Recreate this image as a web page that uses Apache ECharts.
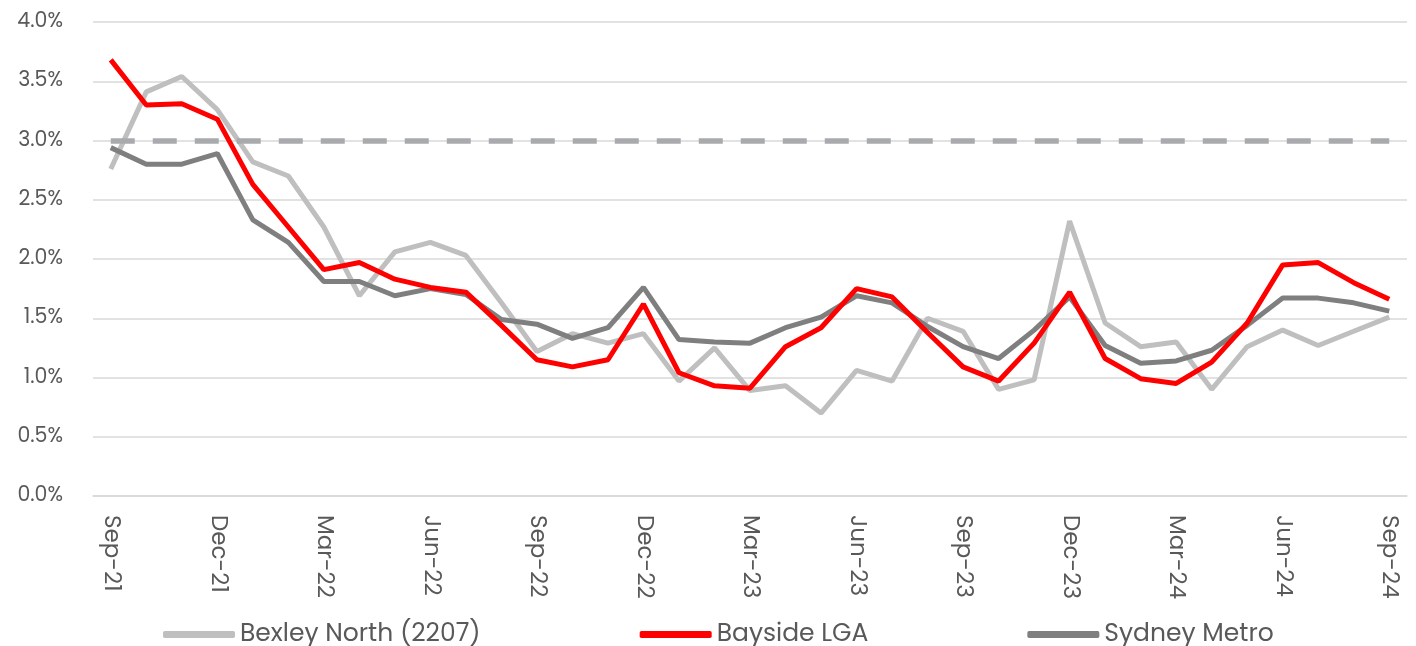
<!DOCTYPE html>
<html>
<head>
<meta charset="utf-8">
<script src="https://cdn.jsdelivr.net/npm/echarts@6/dist/echarts.min.js"></script>
<style>
  html, body { margin: 0; padding: 0; background: #fff; }
  #chart { width: 1416px; height: 646px; }
</style>
</head>
<body>
<div id="chart"></div>
<script>
// monthly, Sep-21 .. Sep-24
const months = ['Sep-21','Oct-21','Nov-21','Dec-21','Jan-22','Feb-22','Mar-22','Apr-22','May-22','Jun-22','Jul-22','Aug-22',
                'Sep-22','Oct-22','Nov-22','Dec-22','Jan-23','Feb-23','Mar-23','Apr-23','May-23','Jun-23','Jul-23','Aug-23',
                'Sep-23','Oct-23','Nov-23','Dec-23','Jan-24','Feb-24','Mar-24','Apr-24','May-24','Jun-24','Jul-24','Aug-24','Sep-24'];

const bexleyNorth = [2.76, 3.41, 3.54, 3.26, 2.82, 2.70, 2.27, 1.69, 2.06, 2.14, 2.03, 1.63,
                     1.22, 1.37, 1.29, 1.37, 0.97, 1.25, 0.89, 0.93, 0.70, 1.06, 0.97, 1.50,
                     1.39, 0.90, 0.98, 2.32, 1.46, 1.26, 1.30, 0.90, 1.26, 1.40, 1.27, 1.39, 1.51];

const baysideLGA = [3.68, 3.30, 3.31, 3.18, 2.63, 2.27, 1.91, 1.97, 1.83, 1.76, 1.72, 1.44,
                    1.15, 1.09, 1.15, 1.62, 1.04, 0.93, 0.91, 1.26, 1.42, 1.75, 1.68, 1.38,
                    1.09, 0.97, 1.29, 1.72, 1.16, 0.99, 0.95, 1.13, 1.46, 1.95, 1.97, 1.80, 1.66];

const sydneyMetro = [2.94, 2.80, 2.80, 2.89, 2.33, 2.14, 1.81, 1.81, 1.69, 1.75, 1.70, 1.49,
                     1.45, 1.33, 1.42, 1.76, 1.32, 1.30, 1.29, 1.42, 1.51, 1.69, 1.63, 1.43,
                     1.26, 1.16, 1.40, 1.68, 1.27, 1.12, 1.14, 1.23, 1.44, 1.67, 1.67, 1.63, 1.56];

const benchmark = 3.0;

window.onload = () => {
    let chart = echarts.init(document.getElementById('chart'));
    const font = "Poppins, 'Noto Sans', sans-serif";
    let option = {
        animation: false,
        backgroundColor: '#fff',
        grid: { left: 93, right: 9, top: 22, bottom: 150 },
        legend: {
            data: ['Bexley North (2207)', 'Bayside LGA', 'Sydney Metro'],
            top: 617,
            left: 158,
            icon: 'roundRect',
            itemWidth: 72,
            itemHeight: 7,
            itemGap: 159,
            textStyle: { color: '#595959', fontSize: 25, fontFamily: font }
        },
        xAxis: {
            type: 'category',
            data: months,
            boundaryGap: true,
            axisLine: { lineStyle: { color: '#D9D9D9', width: 1.5 } },
            axisTick: { interval: 2, length: 9, lineStyle: { color: '#D9D9D9', width: 1.5 } },
            axisLabel: {
                interval: 2,
                rotate: -90,
                margin: 19,
                color: '#595959',
                fontSize: 23,
                fontFamily: font
            }
        },
        yAxis: {
            type: 'value',
            min: 0,
            max: 4,
            interval: 0.5,
            axisLine: { show: false },
            axisTick: { show: false },
            splitLine: { lineStyle: { color: '#D9D9D9', width: 1.5 } },
            axisLabel: {
                margin: 30,
                color: '#595959',
                fontSize: 20.5,
                fontFamily: font,
                formatter: v => v.toFixed(1) + '%'
            }
        },
        series: [
            {
                name: 'Bexley North (2207)',
                type: 'line',
                data: bexleyNorth,
                symbol: 'none',
                color: '#BFBFBF',
                lineStyle: { width: 5, color: '#BFBFBF' },
                z: 2
            },
            {
                name: 'Sydney Metro',
                type: 'line',
                data: sydneyMetro,
                symbol: 'none',
                color: '#7F7F7F',
                lineStyle: { width: 5, color: '#7F7F7F' },
                z: 3
            },
            {
                name: 'Bayside LGA',
                type: 'line',
                data: baysideLGA,
                symbol: 'none',
                color: '#FF0000',
                lineStyle: { width: 5, color: '#FF0000' },
                z: 4
            },
            {
                name: 'benchmark',
                type: 'line',
                data: [],
                markLine: {
                    silent: true,
                    symbol: 'none',
                    label: { show: false },
                    lineStyle: { type: [24, 18], width: 5.5, color: '#A9AAAD', cap: 'butt' },
                    data: [[
                        { coord: [months[0], benchmark] },
                        { coord: [months[months.length - 1], benchmark] }
                    ]]
                },
                z: 1
            }
        ]
    };
    chart.setOption(option);
};
</script>
</body>
</html>
